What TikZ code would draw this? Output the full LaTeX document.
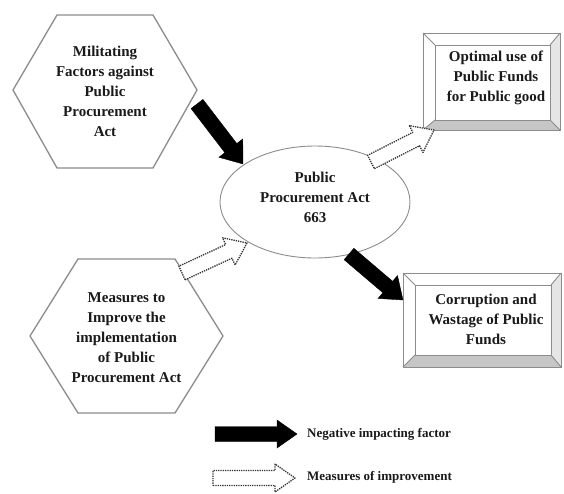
\documentclass[tikz,border=0pt]{standalone}
\usepackage{fontspec}
\setmainfont{Liberation Serif}
\usetikzlibrary{calc}
\definecolor{txt}{HTML}{1A1A1A}
\definecolor{edge}{HTML}{8C8C8C}
\tikzset{
  hexline/.style={draw=edge, line width=1.3pt, fill=white, line join=round},
  boxline/.style={draw=edge, line width=0.9pt},
  lbl/.style={font=\bfseries\fontsize{15}{20}\selectfont, text=txt, align=center, inner sep=0pt},
  leg/.style={font=\bfseries\fontsize{13}{16}\selectfont, text=txt, anchor=west, inner sep=0pt},
  negarrow/.style={fill=black, draw=black, line width=0.4pt},
  imparrow/.style={fill=white, draw=black!80, line width=1.3pt, densely dotted, line join=round}
}
\newcommand\blockarrow[6]{% style, from, to, shaft width, head width, head length
  \pgfpointdiff{\pgfpointanchor{#2}{center}}{\pgfpointanchor{#3}{center}}
  \pgfgetlastxy{\baDx}{\baDy}
  \pgfmathsetmacro\baAng{atan2(\baDy,\baDx)}
  \pgfmathsetmacro\baLen{veclen(\baDx,\baDy)}
  \begin{scope}[shift={(#2)}, rotate=\baAng, x=1pt, y=1pt]
    \draw[#1] (0,-#4/2) -- (\baLen-#6,-#4/2) -- (\baLen-#6,-#5/2) -- (\baLen,0)
      -- (\baLen-#6,#5/2) -- (\baLen-#6,#4/2) -- (0,#4/2) -- cycle;
  \end{scope}}
\newcommand\bevelbox[8]{% outer x1 y1 x2 y2, inner x1 y1 x2 y2
  \fill[white] (#1,#2) rectangle (#3,#4);
  \fill[gray!45] (#1,#4) -- (#5,#8) -- (#7,#8) -- (#3,#4) -- cycle;
  \fill[gray!20] (#3,#2) -- (#7,#6) -- (#7,#8) -- (#3,#4) -- cycle;
  \draw[boxline] (#1,#2) rectangle (#3,#4);
  \draw[boxline] (#5,#6) rectangle (#7,#8);
  \draw[boxline] (#1,#2) -- (#5,#6) (#3,#2) -- (#7,#6) (#1,#4) -- (#5,#8) (#3,#4) -- (#7,#8);}
\begin{document}
\begin{tikzpicture}[x=1pt, y=-1pt]
\useasboundingbox (0,0) rectangle (564,493);
\fill[white] (0,0) rectangle (564,493);

% hexagons
\draw[hexline] (13,90) -- (57,15) -- (153,15) -- (197,90) -- (153,168) -- (57,168) -- cycle;
\node[lbl] (mil) at (105,91) {Militating\\Factors against\\Public\\Procurement\\Act};

\draw[hexline] (30,336) -- (78,259) -- (175,259) -- (223,336) -- (175,413) -- (78,413) -- cycle;
\node[lbl] (meas) at (126.5,337.5) {Measures to\\Improve the\\implementation\\of Public\\Procurement Act};

% central ellipse
\draw[draw=edge, line width=0.9pt, fill=white] (315,202) ellipse [x radius=95, y radius=56];
\node[lbl] (ppa) at (315,197) {Public\\Procurement Act\\663};

% bevel boxes
\bevelbox{423}{33}{560}{130}{435}{45}{550}{120}
\node[lbl] (opt) at (496,78) {Optimal use of\\Public Funds\\for Public good};

\bevelbox{403}{273}{561}{367}{415}{285}{551}{355}
\node[lbl] (cor) at (486,319) {Corruption and\\Wastage of Public\\Funds};

% arrow end points
\coordinate (a1s) at (197,104);
\coordinate (a1e) at (243,164);
\coordinate (a2s) at (349,254);
\coordinate (a2e) at (403,300);
\coordinate (d1s) at (371,162);
\coordinate (d1e) at (434,130);
\coordinate (d2s) at (182,273);
\coordinate (d2e) at (247,243);

\blockarrow{negarrow}{a1s}{a1e}{15}{30}{20}
\blockarrow{negarrow}{a2s}{a2e}{15}{30}{20}
\blockarrow{imparrow}{d1s}{d1e}{15}{30}{20}
\blockarrow{imparrow}{d2s}{d2e}{15}{30}{20}

% legend
\coordinate (l1s) at (215,434);
\coordinate (l1e) at (297,434);
\coordinate (l2s) at (213,478);
\coordinate (l2e) at (295,478);
\blockarrow{negarrow}{l1s}{l1e}{15}{28}{20}
\blockarrow{imparrow}{l2s}{l2e}{15}{28}{20}
\node[leg] (negl) at (307,434) {Negative impacting factor};
\node[leg] (impl) at (307,477) {Measures of improvement};
\end{tikzpicture}
\end{document}
